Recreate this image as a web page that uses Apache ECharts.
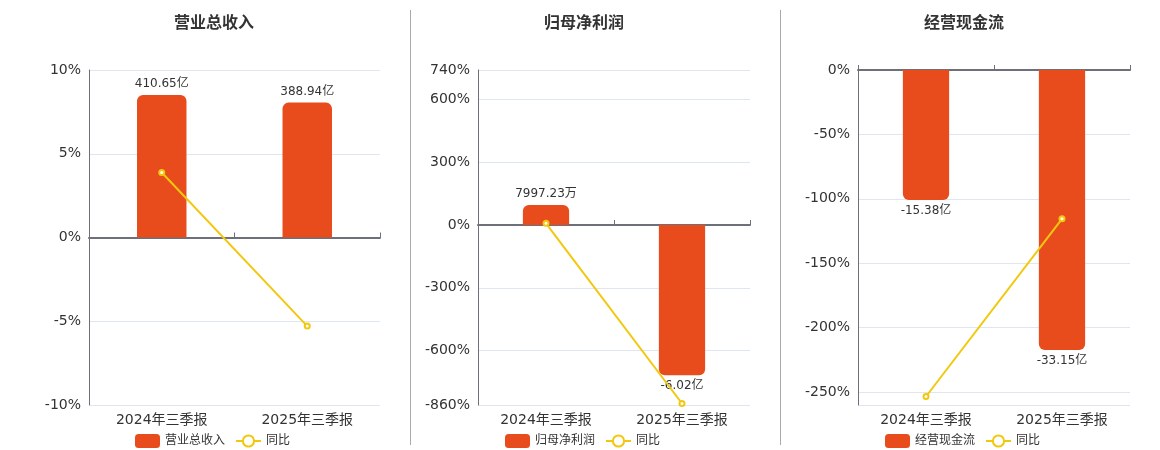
<!DOCTYPE html>
<html><head><meta charset="utf-8">
<script src="https://cdn.jsdelivr.net/npm/echarts@6/dist/echarts.min.js"></script>
<style>html,body{margin:0;padding:0;background:#fff}#c{width:1160px;height:450px}</style>
</head><body><div id="c"></div>
<script>
const categories = ['2024年三季报', '2025年三季报'];
const titles = ['营业总收入', '归母净利润', '经营现金流'];
// bar values in 亿
const revenue = [410.65, 388.94];
const netProfit = [0.799723, -6.02];
const cashFlow = [-15.38, -33.15];
const revenueLabels = ['410.65亿', '388.94亿'];
const netProfitLabels = ['7997.23万', '-6.02亿'];
const cashFlowLabels = ['-15.38亿', '-33.15亿'];
// year-on-year %
const revenueYoY = [3.88, -5.29];
const netProfitYoY = [7.5, -852.8];
const cashFlowYoY = [-253.4, -115.5];

const FONT = "'DejaVu Sans','Noto Sans CJK SC',sans-serif";
const BAR = '#E84C1D', LINE = '#F2C80F', TXT = '#333';

const panels = [
  {title: titles[0], bars: revenue, labels: revenueLabels, yoy: revenueYoY,
   grid: {left: 89, right: 780, top: 70, bottom: 45},
   y: {min: -10, max: 10, interval: 5}, y2: {min: -483, max: 483},
   center: 210},
  {title: titles[1], bars: netProfit, labels: netProfitLabels, yoy: netProfitYoY,
   grid: {left: 478, right: 410, top: 70, bottom: 45},
   y: {min: -860, max: 740, splitNumber: 5}, y2: {min: -7.215, max: 6.209},
   center: 580},
  {title: titles[2], bars: cashFlow, labels: cashFlowLabels, yoy: cashFlowYoY,
   grid: {left: 858, right: 30, top: 70, bottom: 45},
   y: {min: -260, max: 0, splitNumber: 5, hideMin: true}, y2: {min: -39.65, max: 0},
   center: 960}
];

const option = {
  animation: false,
  textStyle: {fontFamily: FONT},
  title: [], legend: [], grid: [], xAxis: [], yAxis: [], series: [],
  graphic: [
    {type: 'line', shape: {x1: 410.5, y1: 10, x2: 410.5, y2: 445}, style: {stroke: '#aaa', lineWidth: 1}},
    {type: 'line', shape: {x1: 780.5, y1: 10, x2: 780.5, y2: 445}, style: {stroke: '#aaa', lineWidth: 1}}
  ]
};

panels.forEach((p, i) => {
  option.title.push({text: p.title, left: p.center - 41, top: 11,
    textStyle: {fontSize: 16, fontWeight: 'bold', color: TXT, fontFamily: FONT}});
  option.legend.push({data: [p.title, '同比'], left: p.center - 80, top: 429,
    itemGap: 10, textStyle: {fontSize: 12, color: TXT, fontFamily: FONT}});
  option.grid.push(Object.assign({containLabel: false}, p.grid));
  const xLab = option.xAxis.length;
  option.xAxis.push({type: 'category', gridIndex: i, data: categories, position: 'bottom',
    axisLine: {show: false, onZero: false}, axisTick: {show: false},
    axisLabel: {fontSize: 14, color: TXT, fontFamily: FONT, margin: 8}});
  const yMain = option.yAxis.length;
  option.yAxis.push({type: 'value', gridIndex: i, min: p.y.min, max: p.y.max,
    interval: p.y.interval, splitNumber: p.y.splitNumber,
    axisLine: {show: true, lineStyle: {color: '#6E7079'}}, axisTick: {show: false},
    splitLine: {lineStyle: {color: '#E0E6F1'}},
    axisLabel: {formatter: '{value}%', fontSize: 14, color: TXT, fontFamily: FONT,
      showMinLabel: !p.y.hideMin, verticalAlign: 'middle', padding: [4, 0, 0, 0]}});
  const ySec = option.yAxis.length;
  option.yAxis.push({type: 'value', gridIndex: i, min: p.y2.min, max: p.y2.max, show: false,
    splitLine: {show: false}});
  option.xAxis.push({type: 'category', gridIndex: i, data: categories,
    axisLine: {show: true, onZero: true, onZeroAxisIndex: yMain, lineStyle: {color: '#6E7079', width: 2}},
    axisTick: {show: true, lineStyle: {color: '#6E7079'}}, axisLabel: {show: false}});
  option.series.push({name: p.title, type: 'bar', xAxisIndex: xLab, yAxisIndex: ySec,
    barWidth: '34%', itemStyle: {color: BAR},
    data: p.bars.map((v, k) => ({value: v,
      itemStyle: {color: BAR, borderRadius: v >= 0 ? [6, 6, 0, 0] : [0, 0, 6, 6]},
      label: {show: true, position: v >= 0 ? 'top' : 'bottom',
        formatter: p.labels[k], fontSize: 12, color: TXT, fontFamily: FONT}}))});
  option.series.push({name: '同比', type: 'line', xAxisIndex: xLab, yAxisIndex: yMain,
    z: 5, symbol: 'emptyCircle', symbolSize: 5, color: LINE,
    lineStyle: {color: LINE, width: 2}, itemStyle: {color: LINE, borderWidth: 2},
    data: p.yoy});
});

const chart = echarts.init(document.getElementById('c'));
chart.setOption(option);
</script></body></html>
